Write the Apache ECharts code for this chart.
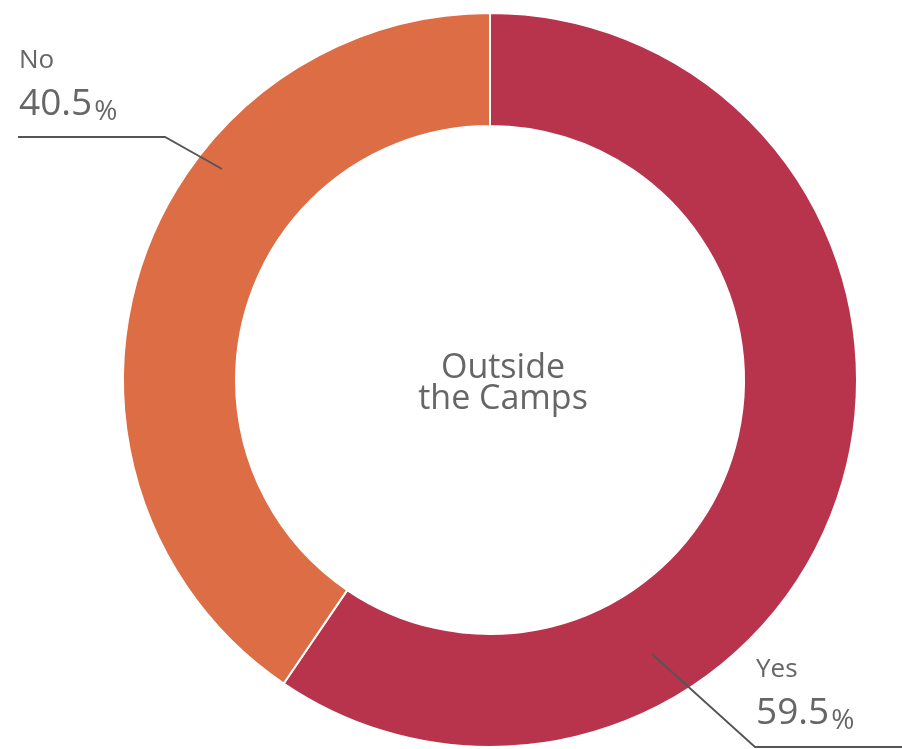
<!DOCTYPE html>
<html>
<head>
<meta charset="utf-8">
<script src="https://cdn.jsdelivr.net/npm/echarts@6/dist/echarts.min.js"></script>
<style>
  html, body { margin: 0; padding: 0; background: #ffffff; }
  #chart { width: 902px; height: 749px; }
</style>
</head>
<body>
<div id="chart"></div>
<script>
// Answer shares for respondents living outside the camps
const categories = ['Yes', 'No'];
const shares = [59.5, 40.5];
const centerTitle = 'Outside\nthe Camps';

const sliceColors = { Yes: '#B8344C', No: '#DC6D45' };
const textColor = '#666666';
const leaderColor = '#555555';

// Where each callout sits, with its leader line (anchor in the ring, elbow, tail)
const callouts = {
  No:  { x: 19,  y: 41,  line: [[222, 169], [165, 137], [18, 137]] },
  Yes: { x: 756, y: 650, line: [[652, 654], [755, 747], [902, 747]] }
};

const chart = echarts.init(document.getElementById('chart'), null, { renderer: 'canvas' });

const leaderLines = categories.map(name => ({
  type: 'polyline',
  z: 100,
  shape: { points: callouts[name].line },
  style: { stroke: leaderColor, lineWidth: 1.8, fill: null }
}));

chart.setOption({
  backgroundColor: '#ffffff',
  animation: false,
  graphic: [{
    type: 'text',
    x: 503,
    y: 384,
    z: 100,
    style: {
      text: centerTitle,
      fill: textColor,
      font: '34px "Open Sans", sans-serif',
      lineHeight: 31,
      align: 'center',
      verticalAlign: 'middle'
    }
  }].concat(leaderLines),
  series: [{
    type: 'pie',
    center: [490, 380],
    radius: [254, 367],
    startAngle: 90,
    clockwise: true,
    silent: true,
    itemStyle: { borderColor: '#ffffff', borderWidth: 2 },
    label: {
      show: true,
      position: 'outside',
      overflow: 'none',
      formatter: p => '{n|' + p.name + '}\n{v|' + p.value.toFixed(1) + '}{p|%}',
      rich: {
        n: { fontFamily: 'Open Sans', fontSize: 26, lineHeight: 40, color: textColor },
        v: { fontFamily: 'Open Sans', fontSize: 37, lineHeight: 46, color: textColor },
        p: { fontFamily: 'Open Sans', fontSize: 28, lineHeight: 46, color: textColor, verticalAlign: 'bottom', padding: [0, 0, 1, 2] }
      }
    },
    labelLine: { show: false },
    labelLayout: function (params) {
      const c = callouts[categories[params.dataIndex]];
      return {
        x: c.x,
        y: c.y,
        align: 'left',
        verticalAlign: 'top',
        hideOverlap: false,
        moveOverlap: null
      };
    },
    data: categories.map((name, i) => ({
      name: name,
      value: shares[i],
      itemStyle: { color: sliceColors[name] }
    }))
  }]
});
</script>
</body>
</html>
